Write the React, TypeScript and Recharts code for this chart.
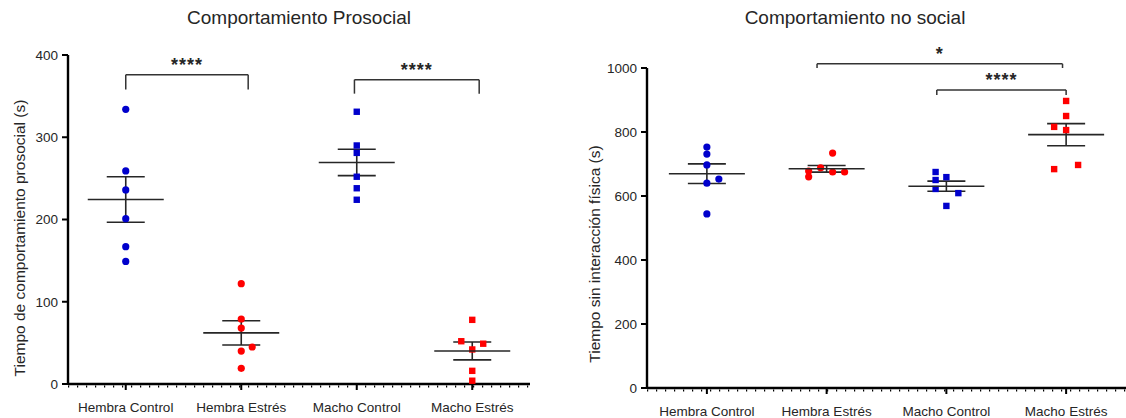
import {
  ComposedChart,
  ErrorBar,
  ReferenceLine,
  Scatter,
  XAxis,
  YAxis,
} from "recharts";

const groups = ["Hembra Control", "Hembra Estrés", "Macho Control", "Macho Estrés"];

// Comportamiento Prosocial (s)
const proHembraControl = [334, 259, 236, 201, 167, 149];
const proHembraEstres = [122, 79, 68, 45, 40, 19];
const proMachoControl = [331, 290, 281, 252, 238, 224];
const proMachoEstres = [78, 52, 49, 42, 16, 4];
// horizontal jitter, in category widths
const proHembraControlJitter = [0, 0, 0, 0, 0, 0];
const proHembraEstresJitter = [0, 0, 0, 0.095, 0, 0];
const proMachoControlJitter = [0, 0, 0, 0, 0, 0];
const proMachoEstresJitter = [0, -0.095, 0.095, 0, 0, 0];
const proTicks = [0, 100, 200, 300, 400];

// Comportamiento no social (s)
const noHembraControl = [753, 731, 697, 653, 640, 544];
const noHembraEstres = [734, 688, 678, 675, 675, 660];
const noMachoControl = [675, 659, 650, 622, 609, 569];
const noMachoEstres = [897, 850, 816, 806, 697, 684];
const noHembraControlJitter = [0, 0, 0, 0.1, 0, 0];
const noHembraEstresJitter = [0.05, -0.05, -0.15, 0.05, 0.15, -0.15];
const noMachoControlJitter = [-0.09, 0, -0.09, -0.09, 0.1, 0];
const noMachoEstresJitter = [0, 0, -0.1, 0, 0.1, -0.1];
const noTicks = [0, 200, 400, 600, 800, 1000];

// significance brackets: from/to (category index), top, foot, label
const proBrackets = [
  { from: 0, to: 1.06, top: 376, foot: 358, label: "****" },
  { from: 1.98, to: 3.06, top: 370, foot: 353, label: "****" },
];
const noBrackets = [
  { from: 0.92, to: 2.97, top: 1013, foot: 1000, label: "*" },
  { from: 1.92, to: 3.0, top: 931, foot: 916, label: "****" },
];

const BLUE = "#0000cc";
const RED = "#ff0000";
const INK = "#262626";

type Pt = { x: number; y: number };

const toPoints = (values: number[], jitter: number[], idx: number): Pt[] =>
  values.map((v, i) => ({ x: idx + jitter[i], y: v }));

const summary = (values: number[], idx: number) => {
  const n = values.length;
  const mean = values.reduce((a, b) => a + b, 0) / n;
  const sd = Math.sqrt(values.reduce((a, b) => a + (b - mean) ** 2, 0) / (n - 1));
  return { x: idx, y: mean, sem: sd / Math.sqrt(n) };
};

const Dot = (color: string) => (p: any) =>
  <circle cx={p.cx} cy={p.cy} r={3.6} fill={color} />;
const Square = (color: string) => (p: any) =>
  <rect x={p.cx - 3.2} y={p.cy - 3.2} width={6.4} height={6.4} fill={color} />;
const MeanLine = (p: any) => (
  <line x1={p.cx - 38} x2={p.cx + 38} y1={p.cy} y2={p.cy} stroke={INK} strokeWidth={1.6} />
);
// the little dashed minor ticks under the x axis
const MinorTicks = (p: any) => (
  <line
    x1={p.x1}
    x2={p.x2}
    y1={p.y1 + 2.5}
    y2={p.y2 + 2.5}
    stroke="#000"
    strokeWidth={2}
    strokeDasharray="1.2 7.8"
  />
);

type Group = { values: number[]; jitter: number[] };
type Bracket = { from: number; to: number; top: number; foot: number; label: string };

function DotPlot({
  data,
  yMax,
  ticks,
  brackets,
  width,
  margin,
}: {
  data: Group[];
  yMax: number;
  ticks: number[];
  brackets: Bracket[];
  width: number;
  margin: { top: number; right: number; bottom: number; left: number };
}) {
  const shapes = [Dot(BLUE), Dot(RED), Square(BLUE), Square(RED)];
  const stats = data.map((g, i) => summary(g.values, i));
  const bracketStyle = { stroke: "#333", strokeWidth: 1.5 };
  return (
    <ComposedChart width={width} height={418} margin={margin}>
      <XAxis
        type="number"
        dataKey="x"
        domain={[-0.5, 3.5]}
        ticks={[0, 1, 2, 3]}
        interval={0}
        tickFormatter={(v) => groups[v] ?? ""}
        height={26}
        axisLine={{ stroke: "#000", strokeWidth: 2.4 }}
        tickLine={{ stroke: "#000", strokeWidth: 2 }}
        tickSize={6}
        tickMargin={12}
        tick={{ fontSize: 13.5, fill: INK }}
      />
      <YAxis
        type="number"
        dataKey="y"
        domain={[0, yMax]}
        ticks={ticks}
        interval={0}
        width={40}
        axisLine={{ stroke: "#000", strokeWidth: 2.4 }}
        tickLine={{ stroke: "#000", strokeWidth: 2 }}
        tickSize={6}
        tickMargin={4}
        tick={{ fontSize: 13.5, fill: INK }}
      />
      <ReferenceLine y={0} ifOverflow="visible" shape={MinorTicks} />
      {data.map((g, i) => (
        <Scatter
          key={groups[i]}
          data={toPoints(g.values, g.jitter, i)}
          shape={shapes[i]}
          isAnimationActive={false}
        />
      ))}
      <Scatter data={stats} shape={MeanLine} isAnimationActive={false}>
        <ErrorBar dataKey="sem" direction="y" width={19} stroke={INK} strokeWidth={1.6} />
      </Scatter>
      {brackets.map((b, i) => [
        <ReferenceLine
          key={`l${i}`}
          ifOverflow="visible"
          segment={[
            { x: b.from, y: b.foot },
            { x: b.from, y: b.top },
          ]}
          {...bracketStyle}
        />,
        <ReferenceLine
          key={`t${i}`}
          ifOverflow="visible"
          segment={[
            { x: b.from, y: b.top },
            { x: b.to, y: b.top },
          ]}
          {...bracketStyle}
          label={{
            value: b.label,
            position: "top",
            offset: 4,
            fill: INK,
            fontSize: 18,
            fontWeight: "bold",
            letterSpacing: 1,
          }}
        />,
        <ReferenceLine
          key={`r${i}`}
          ifOverflow="visible"
          segment={[
            { x: b.to, y: b.top },
            { x: b.to, y: b.foot },
          ]}
          {...bracketStyle}
        />,
      ])}
    </ComposedChart>
  );
}

const titleStyle = (cx: number): React.CSSProperties => ({
  position: "absolute",
  left: cx,
  top: 7,
  transform: "translateX(-50%)",
  fontSize: 19,
  lineHeight: "22px",
  color: INK,
  whiteSpace: "nowrap",
});

const yLabelStyle = (cx: number, cy: number): React.CSSProperties => ({
  position: "absolute",
  left: cx,
  top: cy,
  transform: "translate(-50%, -50%) rotate(-90deg)",
  fontSize: 15.5,
  lineHeight: "18px",
  color: INK,
  whiteSpace: "nowrap",
});

export default function App() {
  const proData: Group[] = [
    { values: proHembraControl, jitter: proHembraControlJitter },
    { values: proHembraEstres, jitter: proHembraEstresJitter },
    { values: proMachoControl, jitter: proMachoControlJitter },
    { values: proMachoEstres, jitter: proMachoEstresJitter },
  ];
  const noData: Group[] = [
    { values: noHembraControl, jitter: noHembraControlJitter },
    { values: noHembraEstres, jitter: noHembraEstresJitter },
    { values: noMachoControl, jitter: noMachoControlJitter },
    { values: noMachoEstres, jitter: noMachoEstresJitter },
  ];
  return (
    <div
      style={{
        position: "absolute",
        left: 0,
        top: 0,
        width: 1126,
        height: 418,
        background: "#fff",
        overflow: "hidden",
        fontFamily: '"Liberation Sans", Arial, sans-serif',
      }}
    >
      <div style={{ position: "absolute", left: 0, top: 0 }}>
        <DotPlot
          data={proData}
          yMax={400}
          ticks={proTicks}
          brackets={proBrackets}
          width={560}
          margin={{ top: 55, right: 30, bottom: 8, left: 28 }}
        />
      </div>
      <div style={{ position: "absolute", left: 560, top: 0 }}>
        <DotPlot
          data={noData}
          yMax={1000}
          ticks={noTicks}
          brackets={noBrackets}
          width={566}
          margin={{ top: 68, right: 0, bottom: 4, left: 47 }}
        />
      </div>
      <div style={titleStyle(299)}>Comportamiento Prosocial</div>
      <div style={titleStyle(855)}>Comportamiento no social</div>
      <div style={yLabelStyle(20, 238)}>Tiempo de comportamiento prosocial (s)</div>
      <div style={yLabelStyle(595, 254)}>Tiempo sin interacción física (s)</div>
    </div>
  );
}
